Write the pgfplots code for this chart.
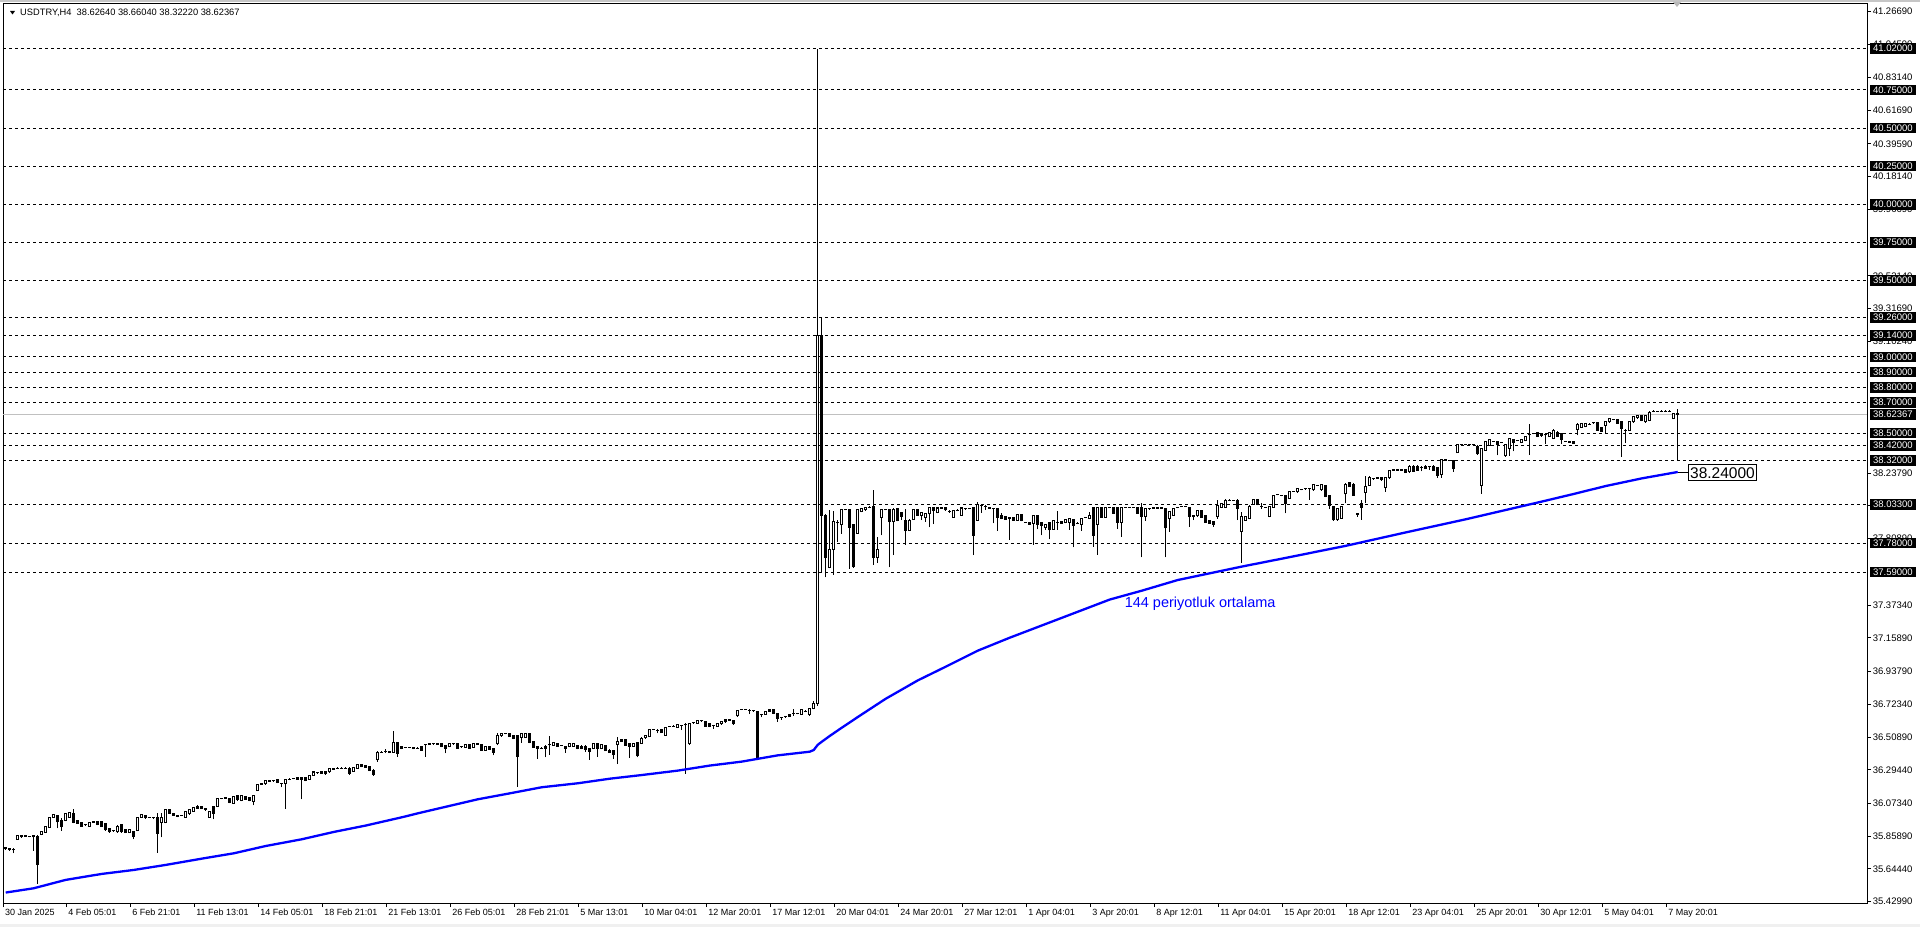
\documentclass[border=0pt]{standalone}
\usepackage{fontspec}
\setmainfont{Liberation Sans}
\usepackage{pgfplots}
\usepackage{pgfplotstable}
\pgfplotsset{compat=1.18}
\definecolor{pricegrey}{RGB}{192,192,192}
\definecolor{wingrey}{RGB}{240,240,240}

\pgfplotstableread{
k o h l c
0 35.785 35.790 35.772 35.776
1 35.780 35.784 35.765 35.771
2 35.771 35.780 35.747 35.770
3 35.839 35.865 35.835 35.861
4 35.862 35.864 35.850 35.855
5 35.863 35.866 35.855 35.858
6 35.860 35.863 35.852 35.857
7 35.861 35.864 35.765 35.855
8 35.857 35.867 35.546 35.673
9 35.872 35.892 35.866 35.889
10 35.885 35.926 35.880 35.922
11 35.918 35.988 35.914 35.983
12 35.983 36.006 35.979 36.001
13 35.996 36.001 35.911 35.953
14 35.961 35.977 35.896 35.922
15 35.961 36.009 35.957 36.005
16 35.983 36.018 35.979 36.014
17 36.009 36.040 35.944 35.950
18 35.961 35.965 35.940 35.944
19 35.948 35.952 35.922 35.926
20 35.935 35.941 35.928 35.934
21 35.926 35.952 35.922 35.948
22 35.953 35.959 35.946 35.952
23 35.953 35.957 35.931 35.935
24 35.953 35.957 35.918 35.922
25 35.944 35.948 35.896 35.900
26 35.909 35.913 35.883 35.887
27 35.896 35.901 35.890 35.895
28 35.887 35.930 35.883 35.926
29 35.935 35.939 35.883 35.887
30 35.905 35.909 35.879 35.883
31 35.883 35.904 35.879 35.900
32 35.887 35.891 35.839 35.857
33 35.896 35.988 35.892 35.983
34 35.983 36.006 35.979 36.001
35 35.996 36.000 35.975 35.979
36 35.983 35.988 35.977 35.982
37 35.983 35.988 35.970 35.982
38 35.983 36.009 35.752 35.878
39 35.948 36.009 35.852 35.979
40 35.948 36.035 35.944 36.031
41 36.031 36.040 36.005 36.009
42 36.009 36.013 35.992 35.996
43 35.996 36.001 35.985 35.990
44 35.996 36.001 35.990 35.995
45 35.983 36.027 35.979 36.023
46 36.005 36.035 36.001 36.031
47 36.023 36.053 36.019 36.049
48 36.057 36.066 36.040 36.044
49 36.053 36.057 36.036 36.040
50 36.040 36.044 36.027 36.035
51 35.983 36.027 35.979 36.023
52 36.053 36.057 35.970 36.009
53 36.053 36.110 36.049 36.106
54 36.106 36.112 36.100 36.105
55 36.110 36.116 36.104 36.109
56 36.106 36.110 36.075 36.079
57 36.075 36.123 36.071 36.119
58 36.123 36.127 36.093 36.097
59 36.092 36.132 36.088 36.127
60 36.119 36.123 36.097 36.101
61 36.110 36.114 36.088 36.092
62 36.088 36.132 36.062 36.127
63 36.158 36.202 36.154 36.197
64 36.202 36.208 36.196 36.201
65 36.202 36.228 36.198 36.223
66 36.225 36.228 36.216 36.220
67 36.223 36.228 36.217 36.222
68 36.228 36.232 36.206 36.210
69 36.206 36.211 36.180 36.205
70 36.206 36.236 36.040 36.232
71 36.232 36.238 36.226 36.231
72 36.237 36.242 36.231 36.236
73 36.241 36.245 36.228 36.232
74 36.241 36.245 36.101 36.232
75 36.245 36.249 36.219 36.223
76 36.232 36.262 36.228 36.258
77 36.258 36.284 36.254 36.280
78 36.276 36.281 36.270 36.275
79 36.285 36.289 36.268 36.272
80 36.280 36.284 36.263 36.267
81 36.280 36.306 36.276 36.302
82 36.304 36.307 36.295 36.299
83 36.306 36.311 36.300 36.305
84 36.306 36.311 36.300 36.305
85 36.306 36.311 36.300 36.305
86 36.306 36.310 36.262 36.272
87 36.285 36.315 36.281 36.311
88 36.306 36.332 36.302 36.328
89 36.328 36.332 36.311 36.315
90 36.324 36.328 36.307 36.311
91 36.315 36.319 36.285 36.289
92 36.293 36.297 36.255 36.263
93 36.359 36.415 36.346 36.411
94 36.411 36.416 36.405 36.410
95 36.416 36.433 36.403 36.415
96 36.416 36.420 36.403 36.407
97 36.411 36.547 36.407 36.472
98 36.472 36.476 36.381 36.403
99 36.446 36.450 36.429 36.433
100 36.442 36.447 36.436 36.441
101 36.442 36.447 36.436 36.441
102 36.442 36.446 36.429 36.433
103 36.437 36.442 36.431 36.436
104 36.446 36.450 36.420 36.424
105 36.459 36.464 36.380 36.458
106 36.464 36.469 36.458 36.463
107 36.464 36.466 36.462 36.464
108 36.464 36.469 36.458 36.463
109 36.468 36.472 36.442 36.446
110 36.455 36.459 36.402 36.433
111 36.446 36.472 36.442 36.468
112 36.464 36.466 36.462 36.464
113 36.464 36.468 36.433 36.437
114 36.446 36.451 36.440 36.445
115 36.442 36.463 36.438 36.459
116 36.459 36.463 36.433 36.437
117 36.442 36.468 36.438 36.464
118 36.464 36.469 36.458 36.463
119 36.459 36.463 36.420 36.424
120 36.424 36.450 36.420 36.446
121 36.446 36.450 36.425 36.429
122 36.433 36.437 36.389 36.411
123 36.464 36.533 36.455 36.516
124 36.516 36.537 36.512 36.533
125 36.533 36.538 36.527 36.532
126 36.533 36.537 36.508 36.512
127 36.516 36.520 36.494 36.498
128 36.516 36.520 36.184 36.380
129 36.507 36.537 36.472 36.533
130 36.507 36.537 36.503 36.533
131 36.533 36.537 36.468 36.472
132 36.477 36.481 36.438 36.442
133 36.446 36.450 36.367 36.433
134 36.437 36.442 36.431 36.436
135 36.437 36.454 36.376 36.450
136 36.459 36.516 36.394 36.458
137 36.455 36.476 36.451 36.472
138 36.468 36.472 36.446 36.450
139 36.455 36.460 36.449 36.454
140 36.446 36.450 36.407 36.433
141 36.446 36.468 36.442 36.464
142 36.450 36.472 36.446 36.468
143 36.455 36.459 36.429 36.433
144 36.450 36.454 36.429 36.433
145 36.450 36.454 36.411 36.429
146 36.433 36.437 36.359 36.415
147 36.433 36.472 36.429 36.468
148 36.468 36.472 36.380 36.433
149 36.433 36.463 36.429 36.459
150 36.455 36.459 36.416 36.420
151 36.424 36.428 36.403 36.407
152 36.420 36.424 36.367 36.394
153 36.459 36.512 36.332 36.481
154 36.481 36.498 36.477 36.494
155 36.494 36.498 36.451 36.455
156 36.464 36.468 36.372 36.450
157 36.450 36.472 36.446 36.468
158 36.472 36.476 36.376 36.385
159 36.468 36.512 36.464 36.498
160 36.503 36.524 36.499 36.520
161 36.512 36.564 36.508 36.560
162 36.560 36.565 36.554 36.559
163 36.555 36.560 36.533 36.554
164 36.560 36.564 36.534 36.538
165 36.520 36.577 36.516 36.573
166 36.577 36.579 36.575 36.577
167 36.581 36.586 36.575 36.580
168 36.573 36.594 36.569 36.590
169 36.586 36.591 36.555 36.585
170 36.590 36.599 36.267 36.589
171 36.464 36.599 36.460 36.595
172 36.603 36.608 36.597 36.602
173 36.599 36.620 36.595 36.616
174 36.616 36.621 36.610 36.615
175 36.612 36.616 36.577 36.581
176 36.595 36.599 36.573 36.577
177 36.586 36.591 36.564 36.585
178 36.581 36.599 36.577 36.595
179 36.595 36.616 36.591 36.612
180 36.608 36.625 36.604 36.621
181 36.621 36.626 36.615 36.620
182 36.616 36.620 36.591 36.595
183 36.647 36.686 36.643 36.682
184 36.691 36.696 36.685 36.690
185 36.691 36.693 36.689 36.691
186 36.686 36.691 36.660 36.685
187 36.682 36.687 36.676 36.681
188 36.678 36.682 36.368 36.372
189 36.656 36.661 36.638 36.655
190 36.660 36.682 36.656 36.678
191 36.678 36.695 36.674 36.691
192 36.691 36.695 36.660 36.664
193 36.664 36.668 36.608 36.629
194 36.638 36.643 36.621 36.637
195 36.643 36.648 36.637 36.642
196 36.643 36.660 36.639 36.656
197 36.664 36.691 36.647 36.663
198 36.664 36.669 36.658 36.663
199 36.660 36.695 36.656 36.691
200 36.678 36.683 36.672 36.677
201 36.660 36.699 36.647 36.695
202 36.695 36.743 36.691 36.730
203 36.730 41.020 36.715 39.140
204 39.140 39.260 37.590 37.964
205 37.964 37.968 37.556 37.687
206 37.621 37.997 37.615 37.739
207 37.739 37.988 37.571 37.920
208 37.914 37.931 37.789 37.913
209 37.899 38.005 37.840 38.001
210 38.001 38.006 37.995 38.000
211 38.001 38.005 37.613 37.883
212 37.899 37.903 37.620 37.626
213 37.844 38.005 37.840 38.001
214 37.986 38.012 37.982 38.008
215 37.997 38.018 37.993 38.014
216 38.014 38.023 38.008 38.013
217 38.023 38.128 37.637 37.687
218 37.687 37.822 37.652 37.735
219 37.949 38.005 37.831 38.001
220 38.001 38.006 37.995 38.000
221 38.001 38.005 37.621 37.920
222 37.920 38.008 37.702 38.001
223 38.006 38.010 37.923 37.927
224 37.979 37.983 37.931 37.953
225 37.931 38.001 37.770 37.862
226 37.862 37.935 37.858 37.931
227 37.936 38.001 37.932 37.997
228 37.997 38.001 37.958 37.962
229 37.962 37.983 37.931 37.979
230 37.949 37.979 37.920 37.975
231 37.971 38.018 37.883 38.014
232 38.014 38.018 37.905 37.993
233 37.979 38.014 37.975 38.010
234 38.010 38.015 38.004 38.009
235 38.010 38.014 37.993 37.997
236 37.990 37.995 37.979 37.989
237 37.949 37.997 37.945 37.993
238 37.993 38.001 37.990 37.993
239 37.962 38.014 37.958 38.010
240 38.006 38.011 38.000 38.005
241 38.006 38.009 38.003 38.006
242 38.014 38.018 37.702 37.831
243 37.931 38.049 37.927 38.036
244 38.027 38.032 37.979 38.026
245 38.023 38.028 37.997 38.022
246 38.010 38.013 38.007 38.010
247 38.006 38.011 37.910 38.005
248 38.006 38.010 37.862 37.949
249 37.962 37.975 37.936 37.940
250 37.953 37.957 37.932 37.936
251 37.945 37.950 37.800 37.944
252 37.945 37.949 37.927 37.931
253 37.931 37.970 37.927 37.966
254 37.966 37.970 37.923 37.927
255 37.918 37.921 37.915 37.918
256 37.914 37.918 37.901 37.905
257 37.910 37.962 37.770 37.958
258 37.958 37.962 37.870 37.905
259 37.914 37.918 37.831 37.896
260 37.883 37.905 37.866 37.901
261 37.914 37.918 37.805 37.866
262 37.870 37.931 37.866 37.927
263 37.918 37.988 37.866 37.917
264 37.923 37.927 37.906 37.910
265 37.914 37.940 37.910 37.936
266 37.918 37.944 37.866 37.940
267 37.936 37.940 37.752 37.896
268 37.910 37.915 37.904 37.909
269 37.905 37.944 37.862 37.940
270 37.949 37.954 37.943 37.948
271 37.940 37.984 37.936 37.962
272 38.014 38.018 37.757 37.831
273 37.905 38.018 37.704 38.014
274 38.014 38.018 37.945 37.949
275 37.949 38.018 37.945 38.014
276 38.014 38.019 38.008 38.013
277 38.014 38.018 37.971 37.975
278 38.014 38.018 37.875 37.918
279 37.918 38.018 37.822 38.014
280 38.014 38.017 38.011 38.014
281 38.014 38.017 38.011 38.014
282 38.014 38.017 38.011 38.014
283 38.014 38.018 37.971 37.975
284 38.014 38.041 37.687 37.953
285 37.953 38.010 37.927 38.006
286 38.006 38.011 38.000 38.005
287 38.010 38.013 38.007 38.010
288 38.010 38.013 38.007 38.010
289 38.010 38.013 38.007 38.010
290 38.006 38.010 37.687 37.879
291 37.940 37.992 37.853 37.988
292 37.962 38.010 37.958 38.006
293 38.014 38.019 38.008 38.013
294 38.019 38.022 38.016 38.019
295 38.019 38.022 38.016 38.019
296 38.014 38.018 37.888 37.953
297 37.958 37.963 37.931 37.957
298 37.958 37.997 37.954 37.993
299 37.993 37.997 37.945 37.949
300 37.962 37.966 37.914 37.918
301 37.927 37.931 37.906 37.910
302 37.923 37.927 37.888 37.901
303 37.953 38.062 37.940 38.027
304 38.014 38.045 38.010 38.041
305 38.014 38.066 38.010 38.062
306 38.062 38.067 38.056 38.061
307 38.062 38.065 38.059 38.062
308 38.062 38.066 37.931 38.010
309 37.857 37.984 37.652 37.953
310 37.931 37.957 37.927 37.953
311 37.940 38.027 37.936 38.023
312 38.036 38.071 38.032 38.063
313 38.063 38.067 38.028 38.032
314 38.023 38.041 38.006 38.022
315 38.015 38.018 38.012 38.015
316 37.953 38.023 37.949 38.019
317 38.015 38.097 38.011 38.093
318 38.098 38.103 38.092 38.097
319 38.093 38.098 38.087 38.092
320 38.089 38.093 37.975 38.041
321 38.071 38.119 38.067 38.115
322 38.119 38.122 38.116 38.119
323 38.115 38.141 38.111 38.137
324 38.132 38.137 38.126 38.131
325 38.137 38.142 38.131 38.136
326 38.137 38.142 38.063 38.136
327 38.128 38.167 38.124 38.163
328 38.159 38.164 38.153 38.158
329 38.128 38.167 38.124 38.163
330 38.159 38.163 38.080 38.084
331 38.093 38.097 38.003 38.028
332 38.019 38.023 37.925 37.932
333 37.932 38.010 37.928 38.006
334 37.943 38.023 37.939 38.019
335 38.102 38.171 38.041 38.167
336 38.176 38.180 38.146 38.150
337 38.167 38.171 38.089 38.093
338 37.971 37.980 37.953 37.970
339 38.041 38.063 37.932 38.015
340 38.111 38.220 38.041 38.150
341 38.159 38.220 38.155 38.207
342 38.202 38.207 38.196 38.201
343 38.207 38.212 38.201 38.206
344 38.207 38.211 38.190 38.194
345 38.146 38.211 38.115 38.207
346 38.207 38.259 38.203 38.255
347 38.259 38.262 38.256 38.259
348 38.259 38.262 38.256 38.259
349 38.259 38.264 38.253 38.258
350 38.259 38.263 38.238 38.242
351 38.246 38.289 38.242 38.285
352 38.285 38.289 38.246 38.250
353 38.285 38.289 38.255 38.259
354 38.277 38.282 38.250 38.276
355 38.285 38.289 38.264 38.268
356 38.281 38.286 38.259 38.280
357 38.285 38.289 38.255 38.259
358 38.277 38.281 38.207 38.224
359 38.229 38.333 38.207 38.329
360 38.325 38.330 38.319 38.324
361 38.320 38.323 38.317 38.320
362 38.320 38.324 38.246 38.268
363 38.373 38.429 38.369 38.425
364 38.425 38.428 38.422 38.425
365 38.425 38.428 38.422 38.425
366 38.425 38.430 38.419 38.424
367 38.425 38.430 38.416 38.424
368 38.416 38.420 38.360 38.364
369 38.159 38.403 38.102 38.399
370 38.390 38.451 38.386 38.447
371 38.421 38.460 38.417 38.456
372 38.447 38.450 38.444 38.447
373 38.447 38.451 38.355 38.429
374 38.438 38.441 38.435 38.438
375 38.351 38.429 38.347 38.425
376 38.403 38.468 38.351 38.464
377 38.460 38.464 38.381 38.438
378 38.451 38.454 38.448 38.451
379 38.438 38.464 38.434 38.460
380 38.451 38.482 38.447 38.478
381 38.491 38.560 38.360 38.490
382 38.499 38.504 38.493 38.498
383 38.504 38.508 38.474 38.478
384 38.499 38.503 38.478 38.482
385 38.491 38.496 38.429 38.490
386 38.478 38.508 38.474 38.504
387 38.464 38.525 38.460 38.521
388 38.508 38.512 38.474 38.478
389 38.499 38.503 38.429 38.456
390 38.447 38.452 38.441 38.446
391 38.443 38.448 38.437 38.442
392 38.447 38.451 38.430 38.434
393 38.526 38.564 38.486 38.560
394 38.539 38.569 38.535 38.565
395 38.543 38.569 38.539 38.565
396 38.560 38.565 38.554 38.559
397 38.569 38.574 38.563 38.568
398 38.569 38.573 38.517 38.521
399 38.539 38.543 38.508 38.512
400 38.552 38.582 38.504 38.578
401 38.574 38.599 38.570 38.595
402 38.591 38.596 38.585 38.590
403 38.591 38.595 38.561 38.565
404 38.574 38.578 38.346 38.530
405 38.521 38.526 38.434 38.520
406 38.521 38.578 38.517 38.574
407 38.574 38.613 38.570 38.609
408 38.600 38.621 38.596 38.617
409 38.617 38.621 38.578 38.582
410 38.574 38.621 38.570 38.617
411 38.582 38.643 38.578 38.639
412 38.644 38.649 38.638 38.643
413 38.644 38.647 38.641 38.644
414 38.644 38.649 38.638 38.643
415 38.644 38.649 38.638 38.643
416 38.644 38.649 38.638 38.643
417 38.595 38.634 38.591 38.630
418 38.6264 38.6604 38.3222 38.62367
}\candles

\pgfplotstableread{
k m
0 35.490
7 35.518
15 35.573
24 35.612
32 35.638
40 35.671
49 35.712
57 35.747
65 35.795
74 35.839
82 35.887
90 35.929
99 35.983
103 36.009
118 36.101
126 36.140
134 36.180
143 36.206
151 36.236
159 36.260
168 36.289
176 36.322
184 36.348
193 36.389
201 36.413
202 36.424
203 36.458
204 36.478
206 36.516
209 36.570
213 36.640
220 36.760
228 36.880
235 36.970
243 37.075
251 37.160
259 37.240
267 37.320
276 37.410
284 37.468
293 37.538
301 37.582
309 37.626
320 37.683
335 37.762
350 37.850
365 37.936
375 37.997
384 38.052
392 38.102
400 38.154
409 38.204
418 38.246
}\mavg

\begin{document}
\begin{tikzpicture}
\fill[white] (0pt,0pt) rectangle (1920pt,927pt);
\fill[wingrey] (0pt,0pt) rectangle (1920pt,3pt);
\fill[gray!45] (0pt,925pt) rectangle (1920pt,927pt);
\path[use as bounding box] (0pt,0pt) rectangle (1920pt,927pt);
\begin{axis}[
  at={(3pt,24pt)}, anchor=south west,
  scale only axis, width=1864pt, height=899pt,
  xmin=-0.675, xmax=465.325, ymin=35.4215, ymax=41.3128,
  clip=false,
  axis line style={black, line width=1pt},
  tick style={black, line width=1pt},
  tick align=outside, major tick length=4pt,
  xtick pos=left, ytick pos=right, yticklabel pos=right,
  xtick={-0.67,15.1,31.1,47.1,63.1,79.1,95.1,111.1,127.1,143.1,159.1,175.1,191.1,207.1,223.1,239.1,255.1,271.1,287.1,303.1,319.1,335.1,351.1,367.1,383.1,399.1,415.1},
  xticklabels={30 Jan 2025,4 Feb 05:01,6 Feb 21:01,11 Feb 13:01,14 Feb 05:01,18 Feb 21:01,21 Feb 13:01,26 Feb 05:01,28 Feb 21:01,5 Mar 13:01,10 Mar 04:01,12 Mar 20:01,17 Mar 12:01,20 Mar 04:01,24 Mar 20:01,27 Mar 12:01,1 Apr 04:01,3 Apr 20:01,8 Apr 12:01,11 Apr 04:01,15 Apr 20:01,18 Apr 12:01,23 Apr 04:01,25 Apr 20:01,30 Apr 12:01,5 May 04:01,7 May 20:01},
  xticklabel style={anchor=north west, inner sep=0pt, xshift=2pt, yshift=-2pt, font=\fontsize{9}{10}\selectfont},
  ytick={41.26690,41.04590,40.83140,40.61690,40.39590,40.18140,39.96690,39.53140,39.31690,39.10240,38.23790,38.02340,37.80890,37.37340,37.15890,36.93790,36.72340,36.50890,36.29440,36.07340,35.85890,35.64440,35.42990},
  yticklabels={41.26690,41.04590,40.83140,40.61690,40.39590,40.18140,39.96690,39.53140,39.31690,39.10240,38.23790,38.02340,37.80890,37.37340,37.15890,36.93790,36.72340,36.50890,36.29440,36.07340,35.85890,35.64440,35.42990},
  yticklabel style={anchor=west, inner sep=0pt, xshift=1.5pt, font=\fontsize{9.5}{10}\selectfont},
]
\pgfplotsinvokeforeach{41.02,40.75,40.50,40.25,40.00,39.75,39.50,39.26,39.14,39.00,38.90,38.80,38.70,38.50,38.42,38.32,38.033,37.78,37.59}{
  \addplot[black, line width=1pt, dash pattern=on 3pt off 3pt] coordinates {(-0.675,#1) (465.325,#1)};
}
\addplot[pricegrey, line width=1pt] coordinates {(-0.675,38.62367) (465.325,38.62367)};
% wicks
\addplot[black, line width=1pt, quiver={u=0, v={\thisrow{h}-\thisrow{l}}}] table[x=k, y=l] {\candles};
% bodies
\addplot[black, line width=3pt, quiver={u=0, v={abs(\thisrow{c}-\thisrow{o})+0.0066}}] table[x=k, y expr={min(\thisrow{o},\thisrow{c})-0.0033}] {\candles};
% hollow inside of rising bodies
\addplot[white, line width=1pt, restrict y to domain=30:50, quiver={u=0, v={\thisrow{c}-\thisrow{o}-0.0066}}] table[x=k, y expr={(\thisrow{c}-\thisrow{o}>0.0131) ? (\thisrow{o}+0.0033) : 100}] {\candles};
% moving average
\addplot[blue, line width=2.3pt, line join=round] table[x=k, y=m] {\mavg};

\coordinate (b1) at (axis cs:465.325,41.02);
\coordinate (b2) at (axis cs:465.325,40.75);
\coordinate (b3) at (axis cs:465.325,40.50);
\coordinate (b4) at (axis cs:465.325,40.25);
\coordinate (b5) at (axis cs:465.325,40.00);
\coordinate (b6) at (axis cs:465.325,39.75);
\coordinate (b7) at (axis cs:465.325,39.50);
\coordinate (b8) at (axis cs:465.325,39.26);
\coordinate (b9) at (axis cs:465.325,39.14);
\coordinate (b10) at (axis cs:465.325,39.00);
\coordinate (b11) at (axis cs:465.325,38.90);
\coordinate (b12) at (axis cs:465.325,38.80);
\coordinate (b13) at (axis cs:465.325,38.70);
\coordinate (b14) at (axis cs:465.325,38.62367);
\coordinate (b15) at (axis cs:465.325,38.50);
\coordinate (b16) at (axis cs:465.325,38.42);
\coordinate (b17) at (axis cs:465.325,38.32);
\coordinate (b18) at (axis cs:465.325,38.033);
\coordinate (b19) at (axis cs:465.325,37.78);
\coordinate (b20) at (axis cs:465.325,37.59);
\coordinate (maend) at (axis cs:418,38.24);
\coordinate (malab) at (axis cs:420.6,38.24);
\coordinate (ortl) at (axis cs:298.6,37.381);
\coordinate (hdr) at (rel axis cs:0,1);
\end{axis}
\foreach \n/\t in {b1/41.02000,b2/40.75000,b3/40.50000,b4/40.25000,b5/40.00000,b6/39.75000,b7/39.50000,b8/39.26000,b9/39.14000,b10/39.00000,b11/38.90000,b12/38.80000,b13/38.70000,b14/38.62367,b15/38.50000,b16/38.42000,b17/38.32000,b18/38.03300,b19/37.78000,b20/37.59000}{
  \node[fill=black, text=white, anchor=west, inner xsep=3.5pt, inner ysep=0pt, minimum height=10.5pt, xshift=2.3pt, font=\fontsize{9.5}{10}\selectfont] at (\n) {\t};
}
\draw[black, line width=1pt] (maend) -- (malab);
\node[draw=black, line width=1pt, fill=white, anchor=west, inner xsep=1.5pt, inner ysep=0pt, minimum height=16pt, font=\fontsize{15.5}{16}\selectfont] at (malab) {38.24000};
\node[text=blue, font=\fontsize{14.5}{16}\selectfont] at (ortl) {144 periyotluk ortalama};
\fill[black] ([xshift=7pt,yshift=-7pt]hdr) -- ++(5pt,0pt) -- ++(-2.5pt,-3.5pt) -- cycle;
\node[anchor=west, inner sep=0pt, font=\fontsize{9.3}{10}\selectfont] at ([xshift=17pt,yshift=-9.3pt]hdr) {USDTRY,H4\ \ 38.62640 38.66040 38.32220 38.62367};
\fill[gray!55] (1673pt,925pt) -- (1681pt,925pt) -- (1677pt,920pt) -- cycle;
\end{tikzpicture}
\end{document}
